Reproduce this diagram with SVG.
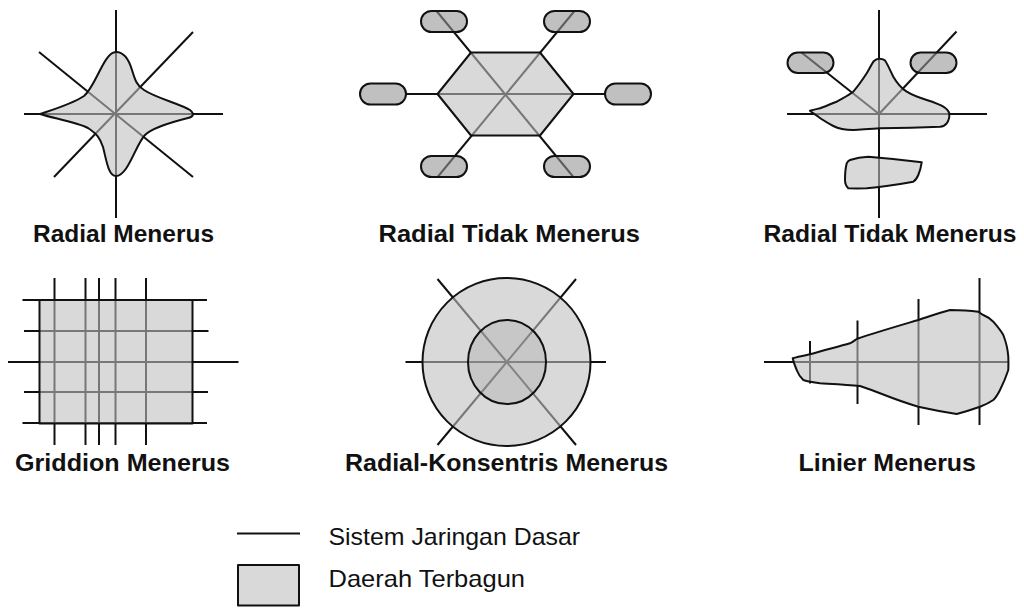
<svg xmlns="http://www.w3.org/2000/svg" width="1024" height="608" viewBox="0 0 1024 608">
<style>
.ln{stroke:#111;stroke-width:2;fill:none;stroke-linecap:butt}
.area{fill:#bebebe;fill-opacity:0.59;stroke:#111;stroke-width:2;stroke-linejoin:round}
.pill{fill:#949494;fill-opacity:0.59;stroke:#111;stroke-width:2}
.inner{fill:#a0a0a0;fill-opacity:0.3;stroke:#111;stroke-width:2}
.title{font-family:"Liberation Sans",Arial,sans-serif;font-weight:bold;font-size:24px;fill:#111}
.leg{font-family:"Liberation Sans",Arial,sans-serif;font-size:24px;fill:#111}
</style>
<rect width="1024" height="608" fill="#fff"/>

<g id="radial-menerus">
<line class="ln" x1="116" y1="10" x2="116" y2="218"/>
<line class="ln" x1="24" y1="114" x2="223" y2="114"/>
<line class="ln" x1="39" y1="52" x2="193" y2="177"/>
<line class="ln" x1="193" y1="32" x2="54" y2="177"/>
<path class="area" d="M116,52 C124,52 129,60 132,70 C135,80 137,86 144,90 C156,98 180,104 190,110 C195,114 193,117 188,118 C172,122 152,128 145,135 C136,144 128,176 116,176 C108,176 106,158 103,147 C100,138 97,134 88,128 C76,122 52,118 40,114 C52,110 72,104 84,96 C96,86 104,52 116,52 Z"/>
<text class="title" x="33" y="241.5" textLength="181" lengthAdjust="spacingAndGlyphs">Radial Menerus</text>
</g>

<g id="radial-tidak-menerus-1">
<line class="ln" x1="406" y1="94" x2="605" y2="94"/>
<line class="ln" x1="436.5" y1="11" x2="573" y2="176.5"/>
<line class="ln" x1="574.5" y1="11" x2="438" y2="176.5"/>
<polygon class="area" points="437.5,94 471,52.5 540,52.5 573.5,94 540,135.5 471,135.5"/>
<rect class="pill" x="421" y="11" width="46" height="21" rx="10.5"/>
<rect class="pill" x="544" y="11" width="46" height="21" rx="10.5"/>
<rect class="pill" x="360" y="83.5" width="46" height="21" rx="10.5"/>
<rect class="pill" x="605" y="83.5" width="46" height="21" rx="10.5"/>
<rect class="pill" x="421" y="156" width="46" height="21" rx="10.5"/>
<rect class="pill" x="544" y="156" width="46" height="21" rx="10.5"/>
<text class="title" x="378.5" y="241.5" textLength="261.5" lengthAdjust="spacingAndGlyphs">Radial Tidak Menerus</text>
</g>

<g id="radial-tidak-menerus-2">
<line class="ln" x1="879" y1="10" x2="879" y2="218"/>
<line class="ln" x1="787" y1="114" x2="987" y2="114"/>
<line class="ln" x1="801.5" y1="52.5" x2="879" y2="114"/>
<line class="ln" x1="879" y1="114" x2="956.5" y2="31.5"/>
<path class="area" d="M810,110.7 C814,109.5 817,109 820,108.3 C827,105.5 832,103.5 836.7,101.7 C843,98 849,95 853.3,91.7 C859,85 863,79 866.7,73.3 C870,68 872,63 874,61 C876,59 878,58.5 880,58.8 C882,59 884,59.5 885,60.5 C888,65 890,70 893.3,76.7 C897,83 901,88 906.7,91.7 C913,95.5 920,98 926.7,100 C933,102 939,104 943.3,106.7 C947,109 949,111 949.3,114 C949.5,118 948.5,121 946.7,123.3 C945,125.5 943,126.5 940,126.7 C920,127.5 900,128 880,128.3 C870,128.8 862,129.5 853.3,130 C845,130 838,128.5 833.3,126 C827,122.5 822,119.5 818.3,116.7 C815,114.5 812,112.5 810,110.7 Z"/>
<path class="area" d="M850,160 C856,158 862,157 868.3,156.7 C885,158 904,160 921.7,162.3 C921,167 920,171 918.3,175 C917,178 915.5,180.5 913.3,181.7 C898,184.5 882,187 866.7,188.3 C860,188.5 854,188.5 848.3,188.3 C846,186 845,183 845,180 C845,174 845.5,168 846.7,163.3 C847.5,161.5 848.5,160.5 850,160 Z"/>
<rect class="pill" x="787.5" y="52.5" width="46" height="20.5" rx="10.25"/>
<rect class="pill" x="910.5" y="52.5" width="46" height="20.5" rx="10.25"/>
<text class="title" x="763.5" y="241.5" textLength="253" lengthAdjust="spacingAndGlyphs">Radial Tidak Menerus</text>
</g>

<g id="griddion-menerus">
<line class="ln" x1="54.5" y1="278" x2="54.5" y2="445"/>
<line class="ln" x1="85.5" y1="278" x2="85.5" y2="445"/>
<line class="ln" x1="99" y1="278" x2="99" y2="445"/>
<line class="ln" x1="115.5" y1="278" x2="115.5" y2="445"/>
<line class="ln" x1="146" y1="278" x2="146" y2="445"/>
<line class="ln" x1="22.5" y1="300" x2="207" y2="300"/>
<line class="ln" x1="24" y1="331" x2="208.5" y2="331"/>
<line class="ln" x1="8" y1="362" x2="238.5" y2="362"/>
<line class="ln" x1="24" y1="392" x2="208" y2="392"/>
<line class="ln" x1="22.5" y1="423" x2="207" y2="423"/>
<rect class="area" x="39.5" y="300" width="153" height="123.5" stroke-linejoin="miter"/>
<text class="title" x="15" y="471" textLength="215" lengthAdjust="spacingAndGlyphs">Griddion Menerus</text>
</g>

<g id="radial-konsentris-menerus">
<line class="ln" x1="405.5" y1="362" x2="606" y2="362"/>
<line class="ln" x1="437.5" y1="279" x2="576" y2="445"/>
<line class="ln" x1="576" y1="279" x2="437.5" y2="445"/>
<circle class="area" cx="506.5" cy="362" r="84"/>
<ellipse class="inner" cx="507" cy="362" rx="39" ry="42"/>
<text class="title" x="345" y="471" textLength="323" lengthAdjust="spacingAndGlyphs">Radial-Konsentris Menerus</text>
</g>

<g id="linier-menerus">
<line class="ln" x1="764" y1="362" x2="1008" y2="362"/>
<line class="ln" x1="810" y1="341" x2="810" y2="383.5"/>
<line class="ln" x1="857.5" y1="320.5" x2="857.5" y2="404"/>
<line class="ln" x1="918.5" y1="299" x2="918.5" y2="425"/>
<line class="ln" x1="979.5" y1="278" x2="979.5" y2="425"/>
<path class="area" d="M792.7,358.3 C798,356.5 804,355.5 810,354.3 C823,350.5 837,347 850,343.3 C853,342 855,340 856.7,339 C877,332 898,326 918.3,320 C929,316.5 940,312.5 950,310 C960,310 970,310.5 978.3,311.7 C980,313 981.5,314.5 983.3,315 C987,316.5 990,318.5 993.3,321.7 C997,326 1000.5,330 1003.3,335 C1006,342 1007.8,349 1008.3,356.7 C1008.5,361 1008.5,365.5 1008.3,370 C1006,377 1003,384 1000,390 C998,394 996,397.5 993.3,400 C989,403 984.5,405 980,406.7 C972,409.5 964,412 956.7,414 C944,412 931,409.5 918.3,406.7 C905,403 892,398 880,393.3 C873,390.5 866,388 860,386 C847,384.5 833,384 820,383.3 C814,382.5 808,381.5 803.3,380 C800,377 798,373.5 796.7,370 C795,366 793.5,362 792.7,358.3 Z"/>
<text class="title" x="798.5" y="470.5" textLength="177.5" lengthAdjust="spacingAndGlyphs">Linier Menerus</text>
</g>

<g id="legend">
<line class="ln" x1="237" y1="533.5" x2="300" y2="533.5"/>
<text class="leg" x="328.5" y="544.5" textLength="251.5" lengthAdjust="spacingAndGlyphs">Sistem Jaringan Dasar</text>
<rect class="area" x="238" y="565" width="61" height="40.5" stroke-linejoin="miter"/>
<text class="leg" x="328.5" y="587" textLength="196.5" lengthAdjust="spacingAndGlyphs">Daerah Terbagun</text>
</g>
</svg>
